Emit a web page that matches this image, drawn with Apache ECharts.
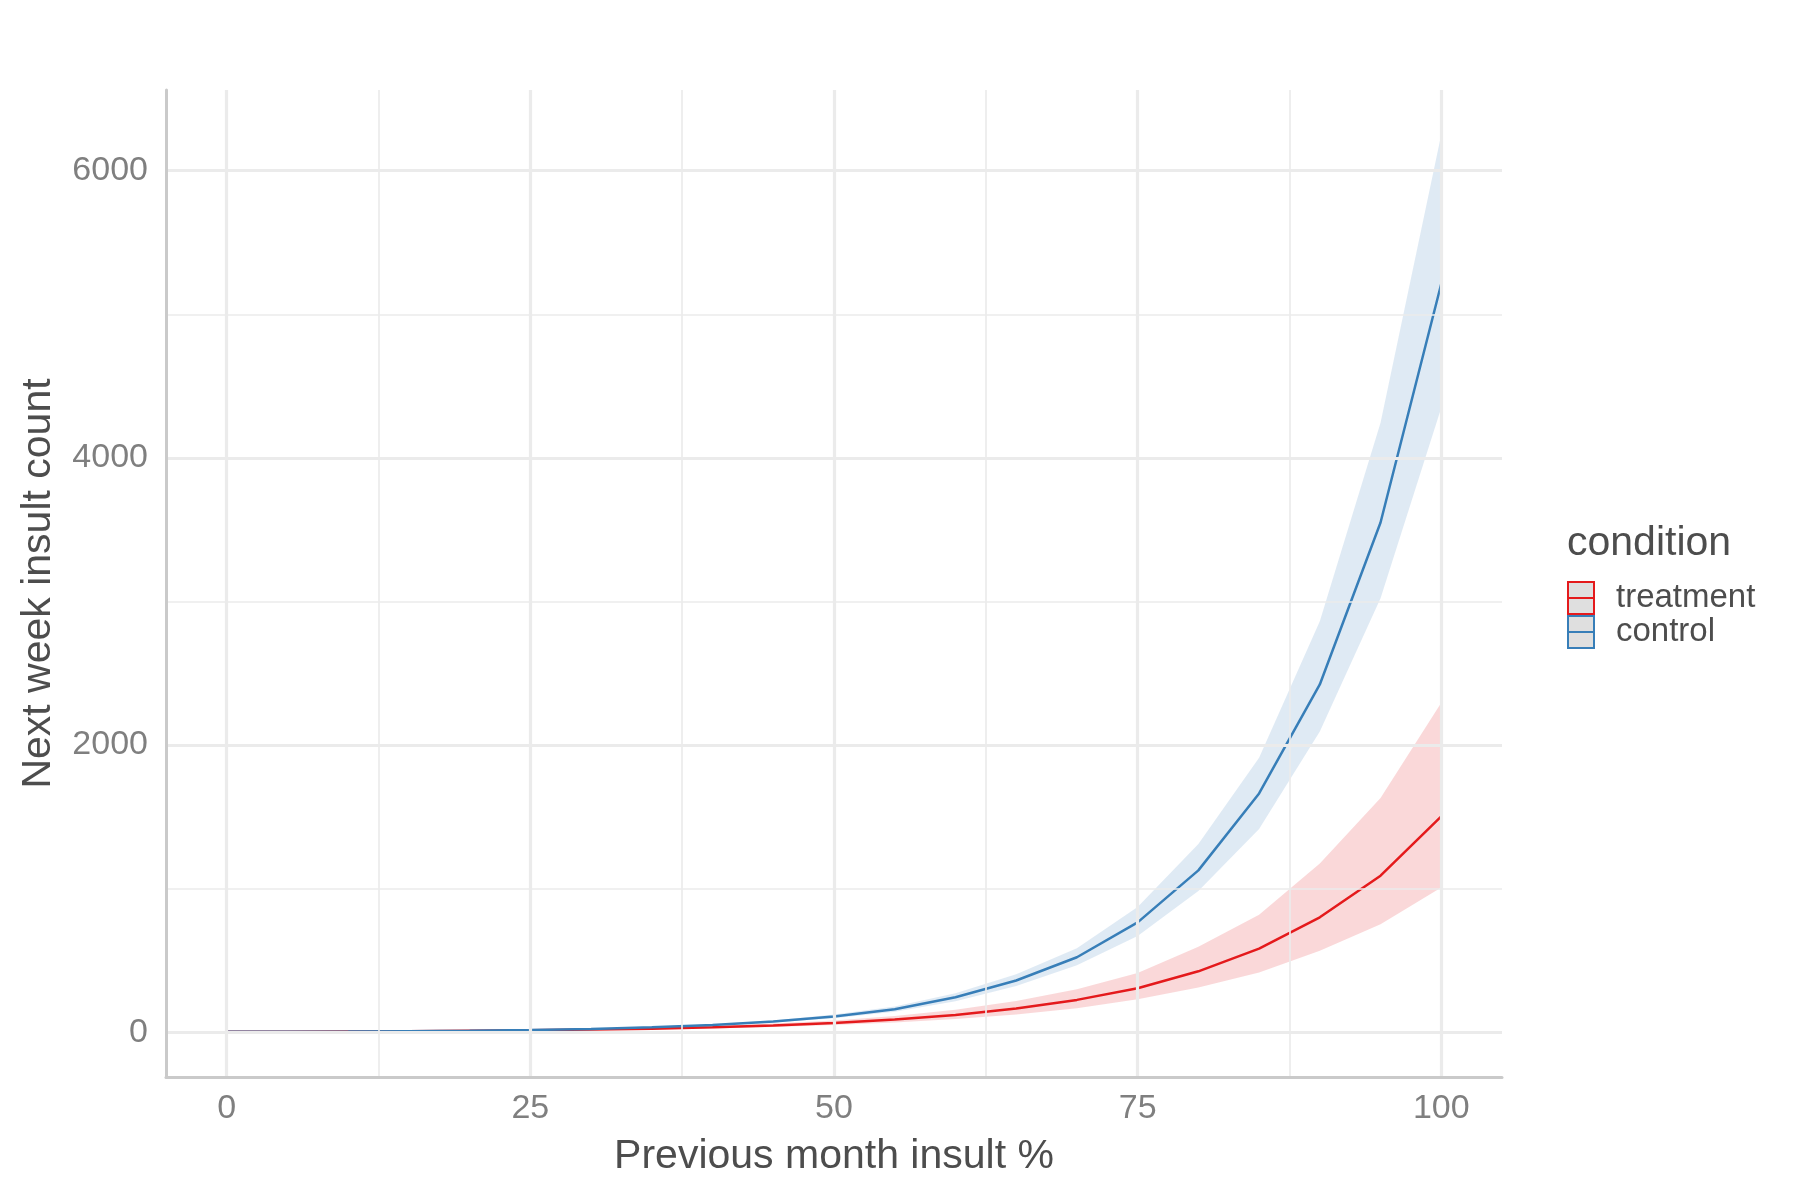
<!DOCTYPE html>
<html>
<head>
<meta charset="utf-8">
<script src="https://cdn.jsdelivr.net/npm/echarts@6/dist/echarts.min.js"></script>
<style>
html,body{margin:0;padding:0;background:#fff;}
#chart{width:1800px;height:1200px;}
</style>
</head>
<body>
<div id="chart"></div>
<script>
// ---- data ----
const xValues = [0,5,10,15,20,25,30,35,40,45,50,55,60,65,70,75,80,85,90,95,100];

const treatmentFit   = [2.6,3.6,5.0,6.9,9.5,13,18,24.7,34,46.5,64,88,120,165,225,306,424,582,800,1090,1503];
const treatmentLower = [1.7,2.4,3.4,4.8,6.8,9.5,13.5,19,26,36,50,68,92,124,166,229,311,415,568,751,1007];
const treatmentUpper = [4.0,5.3,7.2,9.6,13,17.5,24,32,44,60,82,113,157,218,300,412,596,818,1175,1631,2295];

const controlFit   = [2.3,3.4,5.0,7.3,10.8,16,23,34,50,74,110,160,243,360,522,765,1127,1663,2422,3550,5213];
const controlLower = [1.8,2.7,4.1,6.1,9.2,13.9,20.3,30.4,45,67,98,143,216,322,466,670,983,1415,2095,3022,4349];
const controlUpper = [3.0,4.3,6.1,8.8,12.7,18.4,26.1,38,55.5,82,124,179,272,403,585,872,1311,1911,2862,4245,6252];

const xTicks = [0,25,50,75,100];
const xMinorGrid = [12.5,37.5,62.5,87.5];
const yTicks = [0,2000,4000,6000];
const yMinorGrid = [1000,3000,5000];

const seriesNames = ['treatment','control'];

// ---- styles ----
const FONT = "'Liberation Sans', Arial, Helvetica, sans-serif";
const RED = '#e41a1c', BLUE = '#377eb8';
const RED_FILL = 'rgba(228,26,28,0.17)', BLUE_FILL = 'rgba(55,126,184,0.16)';

function pairs(ys){ return xValues.map((x,i)=>[x, ys[i]]); }

const gridMajor = {color:'#ebebeb', width:3.2, type:'solid'};
const gridMinor = {color:'#ebebeb', width:1.7, type:'solid'};
const markData = []
  .concat(yMinorGrid.map(v=>({yAxis:v, lineStyle:gridMinor})))
  .concat(xMinorGrid.map(v=>({xAxis:v, lineStyle:gridMinor})))
  .concat(yTicks.map(v=>({yAxis:v, lineStyle:gridMajor})))
  .concat(xTicks.map(v=>({xAxis:v, lineStyle:gridMajor})));

// ribbon drawn as one polygon through the axes' scales
function bandSeries(name, lower, upper, fill){
  const rows = xValues.map((x,i)=>[x, lower[i], upper[i]]);
  return {
    type:'custom', name:name, data:rows, z:2, silent:true,
    encode:{x:0, y:[1,2]},
    renderItem:function(params, api){
      if (params.dataIndex !== 0) return null;
      const pts = [];
      for (let i=0;i<rows.length;i++) pts.push(api.coord([rows[i][0], rows[i][2]]));
      for (let i=rows.length-1;i>=0;i--) pts.push(api.coord([rows[i][0], rows[i][1]]));
      return {type:'polygon', shape:{points:pts}, style:{fill:fill, stroke:null}};
    }
  };
}

const chart = echarts.init(document.getElementById('chart'), null, {renderer:'canvas'});
const option = {
  animation:false,
  backgroundColor:'#ffffff',
  textStyle:{fontFamily:FONT},
  grid:{left:166, right:298, top:90, bottom:123, containLabel:false},
  xAxis:{
    type:'value', min:-5, max:105, z:10,
    name:'Previous month insult %', nameLocation:'middle', nameGap:59,
    nameTextStyle:{fontSize:41, color:'#4d4d4d', fontFamily:FONT},
    axisLine:{show:true, onZero:false, lineStyle:{color:'#cacaca', width:3}},
    axisTick:{show:false},
    splitLine:{show:false},
    axisLabel:{customValues:xTicks, fontSize:34, color:'#7f7f7f', margin:15, fontFamily:FONT,
      formatter:v=>String(v)}
  },
  yAxis:{
    type:'value', min:-312, max:6562, z:10,
    name:'Next week insult count', nameLocation:'middle', nameGap:107,
    nameTextStyle:{fontSize:41, color:'#4d4d4d', fontFamily:FONT},
    axisLine:{show:true, onZero:false, lineStyle:{color:'#cacaca', width:3}},
    axisTick:{show:false},
    splitLine:{show:false},
    axisLabel:{customValues:yTicks, fontSize:34, color:'#7f7f7f', margin:18, fontFamily:FONT,
      formatter:v=>String(v)}
  },
  legend:{
    orient:'vertical', left:1567, top:581, padding:0, itemWidth:26, itemHeight:32, itemGap:0,
    selectedMode:false,
    textStyle:{fontSize:33, color:'#4d4d4d', fontFamily:FONT, padding:[0,0,0,17]},
    data:[
      {name:'treatment', icon:'path://M0,0H26V32H0Z M0,16H26',
       itemStyle:{color:'#dfdfdf', borderColor:RED, borderWidth:2}},
      {name:'control', icon:'path://M0,0H26V32H0Z M0,16H26',
       itemStyle:{color:'#dfdfdf', borderColor:BLUE, borderWidth:2}}
    ]
  },
  graphic:[
    {type:'text', x:1567, y:544, style:{text:'condition', fontSize:41, fill:'#4d4d4d',
      fontFamily:FONT, verticalAlign:'middle', align:'left'}}
  ],
  series:[
    {type:'line', name:'_grid', data:[], z:1, silent:true,
     markLine:{silent:true, symbol:['none','none'], label:{show:false}, animation:false,
       emphasis:{disabled:true}, data:markData}},
    bandSeries('treatment_ci', treatmentLower, treatmentUpper, RED_FILL),
    bandSeries('control_ci', controlLower, controlUpper, BLUE_FILL),
    {type:'line', name:seriesNames[0], data:pairs(treatmentFit), showSymbol:false, symbol:'none',
     lineStyle:{color:RED, width:2.5}, itemStyle:{color:RED}, z:3},
    {type:'line', name:seriesNames[1], data:pairs(controlFit), showSymbol:false, symbol:'none',
     lineStyle:{color:BLUE, width:2.5}, itemStyle:{color:BLUE}, z:3}
  ]
};
chart.setOption(option);
</script>
</body>
</html>
